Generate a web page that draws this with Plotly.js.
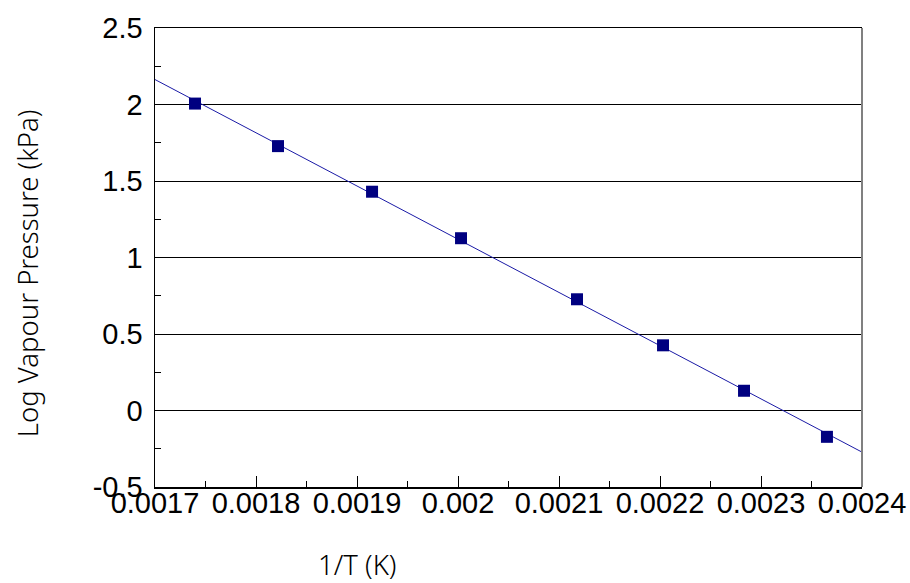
<!DOCTYPE html>
<html>
<head>
<meta charset="utf-8">
<script src="https://cdn.plot.ly/plotly-3.0.1.min.js"></script>
<style>html,body{margin:0;padding:0;background:#fff;}#chart{width:910px;height:583px;}</style>
</head>
<body>
<div id="chart"></div>
<script>
// Measured data points
const invT = [0.0017396, 0.0018218, 0.0019149, 0.002003, 0.0021178, 0.002203, 0.0022832, 0.0023653];
const logP = [2.006, 1.728, 1.430, 1.126, 0.727, 0.426, 0.129, -0.172];
// Fitted trend line (read at plot edges)
const fitX = [0.0017, 0.0024];
const fitY = [2.163, -0.272];
const xTicks = [0.0017, 0.0018, 0.0019, 0.002, 0.0021, 0.0022, 0.0023, 0.0024];
const xTickText = ["0.0017", "0.0018", "0.0019", "0.002", "0.0021", "0.0022", "0.0023", "0.0024"];
const yTicks = [-0.5, 0, 0.5, 1, 1.5, 2, 2.5];
const yTickText = ["-0.5", "0", "0.5", "1", "1.5", "2", "2.5"];

const tickFont = {family: "Liberation Sans, Arial, sans-serif", size: 29, color: "#000"};
const titleFont = {family: "Noto Sans, sans-serif", size: 27.5, color: "#000", weight: 300};

const traces = [
  {x: fitX, y: fitY, mode: "lines", line: {color: "#1a1aa6", width: 1}, hoverinfo: "skip", showlegend: false},
  {x: invT, y: logP, mode: "markers", marker: {symbol: "square", size: 12, color: "#000080"}, showlegend: false}
];

const layout = {
  width: 910, height: 583,
  margin: {l: 155, r: 48, t: 28, b: 96},
  paper_bgcolor: "#fff", plot_bgcolor: "#fff",
  showlegend: false,
  xaxis: {
    range: [0.0017, 0.0024], tickvals: xTicks, ticktext: xTickText,
    ticks: "inside", ticklen: 11, tickcolor: "#000", tickwidth: 1,
    minor: {dtick: 0.00005, ticks: "inside", ticklen: 6, tickcolor: "#000", showgrid: false},
    showgrid: false, zeroline: false, showline: true, linecolor: "#000", linewidth: 1.5, mirror: true,
    tickfont: tickFont, ticklabelstandoff: -10
  },
  yaxis: {
    range: [-0.5, 2.5], tickvals: yTicks, ticktext: yTickText,
    ticks: "inside", ticklen: 8, tickcolor: "#000",
    minor: {dtick: 0.25, ticks: "inside", ticklen: 6, tickcolor: "#000", showgrid: false},
    showgrid: true, gridcolor: "#000", gridwidth: 1, zeroline: false,
    showline: true, linecolor: "#000", linewidth: 1.5,
    tickfont: tickFont, ticklabelstandoff: 5
  },
  shapes: [
    {type: "line", xref: "paper", yref: "paper", x0: 1, x1: 1, y0: 0, y1: 1, line: {color: "#808080", width: 2}}
  ],
  annotations: [
    {text: "Log Vapour Pressure (kPa)", xref: "paper", yref: "paper", x: -0.181, y: 0.466,
     textangle: -90, showarrow: false, font: titleFont, xanchor: "center", yanchor: "middle"},
    {text: "1/T (K)", xref: "paper", yref: "paper", x: 0.286, y: -0.168,
     showarrow: false, font: titleFont, xanchor: "center", yanchor: "middle"}
  ]
};

Plotly.newPlot("chart", traces, layout, {displayModeBar: false, staticPlot: true});
</script>
</body>
</html>
